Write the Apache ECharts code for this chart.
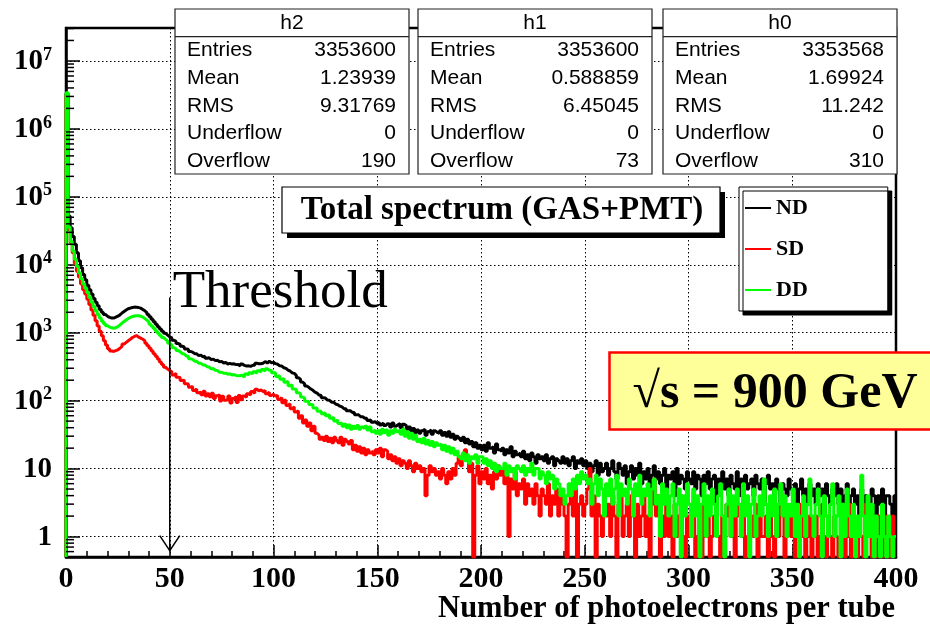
<!DOCTYPE html>
<html><head><meta charset="utf-8">
<script src="https://cdn.jsdelivr.net/npm/echarts@6/dist/echarts.min.js"></script>
<style>html,body{margin:0;padding:0;background:#fff}#c{width:930px;height:630px}</style>
</head><body><div id="c"></div>
<script>
// ---------------- data ----------------
const X_MIN = 0, X_MAX = 400, BIN_WIDTH = 1;
const Y_MIN = 0.5, Y_MAX = 3.05e7;
const THRESHOLD = 50;
const ARROW_TOP = 3300, ARROW_TIP = 0.62;
const xTickStep = 50;
const seriesNames = ['ND', 'SD', 'DD'];

// counts per 1-pe bin, 0..399
const ndCounts = [
3300000,52000,35000,26000,20000,15000,11500,9000,7200,6000,
5000,4300,3700,3200,2800,2500,2200,2000,1850,1750,
1680,1650,1640,1690,1750,1830,1950,2050,2150,2250,
2300,2350,2380,2360,2340,2300,2200,2100,1980,1850,
1720,1580,1450,1330,1220,1130,1050,980,920,870,
838,772,751,694,680,632,618,574,569,531,
519,491,489,461,468,442,452,421,428,401,
409,388,394,372,379,358,364,346,353,345,
348,339,341,323,346,330,324,325,320,332,
331,356,348,350,356,376,358,381,362,366,
350,343,325,323,305,299,281,273,256,252,
236,218,207,188,176,164,157,148,142,133,
129,121,119,110,109,102,101,95,95,89,
87,83,81,76,76,71,71,67,67,62,
62,58,58,55,55,51,52,48,49,46,
48,44,47,43,46,45,41,47,42,44,
46,40,45,43,38,41,36,39,34,37,
33,36,38,31,35,37,32,36,34,33,
36,31,34,30,35,29,32,27,30,28,
26,29,24,27,23,25,21,24,20,22,
19,22,18,24,20,21,17,23,19,18,
20,16,19,17,21,15,18,16,17,15,
18,14,16,13,17,15,12,16,14,15,
13,16,12,14,15,11,14,13,12,15,
12,14,11,13,15,10,13,12,14,11,
13,10,12,9,11,13,8,12,9,10,
12,8,10,13,9,7,12,10,8,11,
6,9,11,7,10,8,12,6,9,7,
10,5,8,11,7,9,6,8,10,5,
8,7,9,4,10,6,8,7,5,9,
7,6,9,5,8,7,4,8,6,9,
5,7,8,3,7,6,9,5,7,4,
8,6,5,9,4,7,6,8,5,6,
7,4,8,6,5,7,3,6,8,5,
6,4,7,5,3,6,5,4,7,5,
4,6,3,5,7,4,5,3,6,4,
5,3,6,4,5,2,6,4,3,5,
4,6,3,5,2,4,6,3,4,5,
3,4,2,5,3,4,1,3,5,4,
2,4,3,5,2,4,4,3,2,4
];
const sdCounts = [
3100000,33000,21000,15000,10500,8000,6600,5200,4300,3700,
3100,2600,2150,1800,1500,1250,1050,900,760,660,
580,540,530,545,560,590,630,680,720,760,
800,850,880,910,860,830,800,760,700,640,
590,540,490,450,410,370,340,310,292,278,
266,238,252,221,219,198,199,178,176,158,
162,141,149,131,133,122,138,117,126,114,
129,108,118,122,99,116,101,104,117,92,
108,115,94,119,103,117,112,126,121,136,
128,147,139,144,136,141,126,133,119,124,
116,119,104,111,93,101,85,90,76,81,
68,71,55,60,47,52,42,47,36,42,
33,31,27,29,26,30,25,28,24,29,
26,24,29,22,27,25,23,26,19,22,
18,21,17,20,16,19,17,18,16,19,
17,20,15,19,18,14,16,13,15,12,
14,11,13,12,10,13,11,9,12,10,
11,9,10,4,8,11,9,10,8,9,
7,10,8,6,9,7,10,8,12,15,
11,16,19,14,9,12,0,8,11,6,
9,7,10,6,8,5,9,7,11,8,
10,6,8,1,7,5,9,4,6,5,
7,3,6,4,5,3,6,4,2,5,
4,3,6,2,4,3,5,2,4,3,
2,0,3,4,2,5,0,3,4,2,
3,5,10,2,4,0,3,2,1,4,
2,3,1,4,2,0,3,5,1,2,
3,1,4,2,0,3,1,2,4,1,
2,0,3,7,2,4,0,2,1,3,
1,2,0,3,1,2,4,1,0,2,
1,3,2,0,1,2,0,3,1,2,
0,1,2,3,1,0,2,1,3,2,
1,2,0,2,3,1,2,0,1,2,
2,1,3,0,2,1,1,2,0,3,
1,0,2,1,3,2,0,1,2,1,
2,0,1,3,1,2,0,1,2,0,
1,2,0,1,3,1,0,2,1,0,
2,1,0,1,2,0,1,3,0,1,
1,0,2,1,0,3,1,2,0,1,
0,2,1,0,1,2,0,1,2,1
];
const ddCounts = [
3400000,36000,22000,16000,12000,9500,7600,6200,5200,4500,
3900,3300,2800,2400,2100,1850,1650,1480,1360,1270,
1210,1180,1160,1180,1230,1300,1380,1460,1540,1620,
1680,1730,1760,1780,1770,1750,1700,1620,1530,1430,
1330,1240,1150,1060,980,910,850,800,750,700,
657,604,585,545,526,494,483,455,446,414,
405,381,379,355,354,336,334,316,312,292,
297,279,277,262,262,253,254,245,248,238,
242,235,233,234,236,221,247,239,257,246,
267,253,276,263,288,274,296,279,281,257,
257,226,233,206,211,187,192,166,171,148,
147,131,127,113,110,98,97,88,87,78,
78,70,70,64,66,60,62,55,57,50,
52,46,47,42,45,40,44,38,42,39,
43,38,41,39,42,37,41,35,37,33,
36,32,38,34,37,31,36,33,38,35,
37,32,38,30,35,28,33,27,31,25,
27,24,28,23,26,22,25,21,24,22,
23,19,22,18,21,17,20,16,18,15,
14,17,13,16,12,15,14,16,12,15,
15,12,14,11,13,10,12,9,11,10,
10,12,8,11,9,10,7,11,10,9,
11,8,10,9,12,8,10,10,7,9,
8,6,9,7,8,5,7,6,4,5,
3,4,6,4,7,5,8,6,9,7,
8,6,7,3,6,8,4,7,5,2,
6,4,7,3,5,8,2,6,4,5,
3,7,5,2,6,4,8,3,5,4,
6,2,5,7,3,4,1,6,3,5,
2,4,6,1,3,5,0,4,2,6,
3,1,5,2,4,0,3,6,1,4,
2,5,3,1,4,6,2,0,3,5,
1,4,2,5,3,1,6,2,4,0,
3,5,1,2,4,2,7,3,1,4,
2,5,1,3,6,2,4,1,3,2,
5,1,3,0,2,4,1,3,7,2,
1,3,5,2,0,4,2,1,3,6,
1,2,4,0,3,1,5,2,1,3,
0,2,1,8,2,0,4,1,3,0,
2,1,0,3,1,0,2,1,0,1
];

const statLabels = ['Entries', 'Mean', 'RMS', 'Underflow', 'Overflow'];
const statBoxNames = ['h2', 'h1', 'h0'];
const h2Stats = ['3353600', '1.23939', '9.31769', '0', '190'];
const h1Stats = ['3353600', '0.588859', '6.45045', '0', '73'];
const h0Stats = ['3353568', '1.69924', '11.242', '0', '310'];
const statValues = [h2Stats, h1Stats, h0Stats];

const titleText = 'Total spectrum (GAS+PMT)';
const energyText = '\u221As = 900 GeV';
const thresholdText = 'Threshold';
const xAxisTitle = 'Number of photoelectrons per tube';

// ---------------- styles ----------------
const colors = ['#000000', '#ff0000', '#00ff00'];
const SERIF = '"Liberation Serif", "Times New Roman", serif';
const SANS = '"Liberation Sans", Arial, sans-serif';

function histPoints(counts) {
  const pts = [[X_MIN, Y_MIN]];
  counts.forEach((c, i) => pts.push([X_MIN + i * BIN_WIDTH, c > 0 ? c : Y_MIN]));
  const last = counts[counts.length - 1];
  pts.push([X_MIN + counts.length * BIN_WIDTH, last > 0 ? last : Y_MIN]);
  return pts;
}

// minor ticks of the log axis: 2..9 x 10^k
const minorTickValues = [];
for (let k = -1; k <= 7; k++) {
  for (let m = 2; m <= 9; m++) {
    const v = m * Math.pow(10, k);
    if (v > Y_MIN && v < Y_MAX) minorTickValues.push([X_MIN, v]);
  }
}

const chart = echarts.init(document.getElementById('c'), null, {renderer: 'canvas'});

const countsList = [ndCounts, sdCounts, ddCounts];
const series = countsList.map((counts, i) => ({
  name: seriesNames[i],
  type: 'line',
  step: 'end',
  data: histPoints(counts),
  showSymbol: false,
  symbol: 'none',
  animation: false,
  clip: true,
  lineStyle: {color: colors[i], width: 3},
  itemStyle: {color: colors[i]},
  z: 3 + i
}));

series.push({
  type: 'custom',
  data: minorTickValues,
  silent: true,
  animation: false,
  z: 10,
  renderItem: function (params, api) {
    const p = api.coord([api.value(0), api.value(1)]);
    return {type: 'line', shape: {x1: p[0], y1: p[1], x2: p[0] + 8, y2: p[1]},
            style: {stroke: '#000', lineWidth: 1.5}};
  }
});

function yLabel(v) {
  const e = Math.round(Math.log10(v));
  if (e < 0 || Math.abs(v - Math.pow(10, e)) > 1e-6 * v) return '';
  if (e === 0) return '{b|1}';
  if (e === 1) return '{b|10}';
  return '{b|10}{s|' + e + '}';
}

const option = {
  animation: false,
  backgroundColor: '#fff',
  grid: {left: 66, right: 34, top: 28, bottom: 73, containLabel: false, outerBoundsMode: 'none',
         show: true, borderColor: '#000', borderWidth: 2.5, backgroundColor: 'transparent'},
  legend: {
    data: seriesNames,
    orient: 'vertical', left: 739, top: 187,
    padding: [10, 80, 10, 6], itemGap: 19, itemWidth: 26, itemHeight: 2,
    icon: 'rect', selectedMode: false,
    backgroundColor: '#fff', borderColor: '#000', borderWidth: 1,
    shadowColor: '#000', shadowOffsetX: 4, shadowOffsetY: 4, shadowBlur: 0.1,
    textStyle: {fontFamily: SERIF, fontWeight: 'bold', fontSize: 22, color: '#000', lineHeight: 20}
  },
  xAxis: {
    type: 'value', min: X_MIN, max: X_MAX, interval: xTickStep,
    axisLine: {show: true, lineStyle: {color: '#000', width: 2.5}},
    axisTick: {show: true, inside: true, length: 12, lineStyle: {color: '#000', width: 1.5}},
    minorTick: {show: true, splitNumber: 5, length: 6, lineStyle: {color: '#000', width: 1.5}},
    splitLine: {show: true, lineStyle: {color: '#000', width: 1, type: [1.5, 2.5]}},
    axisLabel: {fontFamily: SERIF, fontWeight: 'bold', fontSize: 30, color: '#000', margin: 7}
  },
  yAxis: {
    type: 'log', logBase: 10, min: Y_MIN, max: Y_MAX, splitNumber: 8,
    axisLine: {show: true, lineStyle: {color: '#000', width: 2.5}},
    axisTick: {show: true, inside: true, length: 14, lineStyle: {color: '#000', width: 1.5}},
    splitLine: {show: true, lineStyle: {color: '#000', width: 1, type: [1.5, 2.5]}},
    axisLabel: {
      formatter: yLabel, margin: 14, showMinLabel: false, showMaxLabel: false,
      rich: {
        b: {fontFamily: SERIF, fontWeight: 'bold', fontSize: 29, color: '#000', lineHeight: 30, verticalAlign: 'bottom'},
        s: {fontFamily: SERIF, fontWeight: 'bold', fontSize: 18, color: '#000', lineHeight: 30, verticalAlign: 'top', padding: [0, 0, 12, 0]}
      }
    }
  },
  series: series
};
chart.setOption(option);

// ---------------- annotations ----------------
const g = [];
// x axis title
const pEnd = chart.convertToPixel({gridIndex: 0}, [X_MAX, Y_MIN]);
g.push({type: 'text', x: pEnd[0] - 1, y: 609, z: 60,
        style: {text: xAxisTitle, fontFamily: SERIF, fontWeight: 'bold', fontSize: 30.5, fill: '#000', align: 'right', verticalAlign: 'middle'}});
// stat boxes
const boxLefts = [175, 418, 663], boxW = 234, boxTop = 9, boxBottom = 174, sepY = 36.7;
const rowY = [50.5, 78, 106, 133.5, 161];
statBoxNames.forEach((nm, b) => {
  const x0 = boxLefts[b];
  g.push({type: 'rect', shape: {x: x0, y: boxTop, width: boxW, height: boxBottom - boxTop},
          style: {fill: '#fff', stroke: '#222', lineWidth: 1.2}, z: 100});
  g.push({type: 'line', shape: {x1: x0, y1: sepY, x2: x0 + boxW, y2: sepY},
          style: {stroke: '#222', lineWidth: 1.2}, z: 101});
  g.push({type: 'text', x: x0 + boxW / 2, y: 23.5, z: 102,
          style: {text: nm, fontFamily: SANS, fontSize: 21, fill: '#000', align: 'center', verticalAlign: 'middle'}});
  statLabels.forEach((lab, r) => {
    g.push({type: 'text', x: x0 + 12, y: rowY[r], z: 102,
            style: {text: lab, fontFamily: SANS, fontSize: 21, fill: '#000', align: 'left', verticalAlign: 'middle'}});
    g.push({type: 'text', x: x0 + boxW - 13, y: rowY[r], z: 102,
            style: {text: statValues[b][r], fontFamily: SANS, fontSize: 21, fill: '#000', align: 'right', verticalAlign: 'middle'}});
  });
});
// title box with shadow
g.push({type: 'rect', shape: {x: 287, y: 192, width: 438, height: 46}, style: {fill: '#000'}, z: 100});
g.push({type: 'rect', shape: {x: 282, y: 187, width: 438, height: 46}, style: {fill: '#fff', stroke: '#000', lineWidth: 1.2}, z: 101});
g.push({type: 'text', x: 502, y: 210, z: 102,
        style: {text: titleText, fontFamily: SERIF, fontWeight: 'bold', fontSize: 33, fill: '#000', align: 'center', verticalAlign: 'middle'}});
// energy box
g.push({type: 'rect', shape: {x: 609.5, y: 352.5, width: 340, height: 77}, style: {fill: '#ffff99', stroke: '#ff0000', lineWidth: 2.5}, z: 100});
g.push({type: 'text', x: 775, y: 394, z: 102,
        style: {text: energyText, fontFamily: SERIF, fontWeight: 'bold', fontSize: 50, fill: '#000', align: 'center', verticalAlign: 'middle'}});
// threshold arrow
const pTop = chart.convertToPixel({gridIndex: 0}, [THRESHOLD, ARROW_TOP]);
const pTip = chart.convertToPixel({gridIndex: 0}, [THRESHOLD, ARROW_TIP]);
g.push({type: 'line', shape: {x1: pTop[0], y1: pTop[1], x2: pTip[0], y2: pTip[1]}, style: {stroke: '#000', lineWidth: 1.5}, z: 50});
g.push({type: 'polyline', shape: {points: [[pTip[0] - 10, pTip[1] - 15], [pTip[0], pTip[1]], [pTip[0] + 10, pTip[1] - 15]]},
        style: {stroke: '#000', lineWidth: 1.5, fill: null}, z: 50});
g.push({type: 'text', x: pTop[0] + 3, y: 293, z: 50,
        style: {text: thresholdText, fontFamily: SERIF, fontSize: 53, fill: '#000', align: 'left', verticalAlign: 'middle'}});

chart.setOption({graphic: g});
</script>
</body></html>
